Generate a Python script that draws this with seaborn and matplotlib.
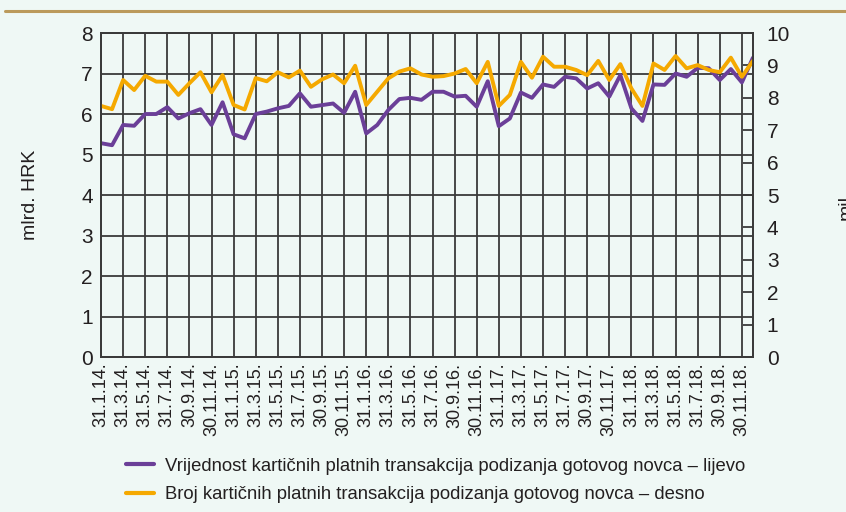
import numpy as np
import pandas as pd
import seaborn as sns
import matplotlib
matplotlib.use('Agg')
import matplotlib.pyplot as plt
from matplotlib.lines import Line2D

# monthly values, Jan 2014 - Dec 2018
value_bn_hrk = [5.28, 5.23, 5.73, 5.71, 6.00, 6.00, 6.17, 5.89, 6.02, 6.12,
                5.73, 6.29, 5.50, 5.40, 6.00, 6.06, 6.14, 6.20, 6.51, 6.18,
                6.22, 6.26, 6.03, 6.55, 5.52, 5.73, 6.10, 6.37, 6.40, 6.35,
                6.55, 6.55, 6.43, 6.45, 6.18, 6.81, 5.70, 5.89, 6.53, 6.40,
                6.73, 6.67, 6.92, 6.88, 6.63, 6.76, 6.43, 6.96, 6.14, 5.83,
                6.73, 6.72, 7.00, 6.92, 7.14, 7.13, 6.84, 7.11, 6.78, 7.39]
count_mil = [7.75, 7.65, 8.55, 8.24, 8.68, 8.50, 8.50, 8.09, 8.45, 8.79,
             8.17, 8.70, 7.78, 7.64, 8.61, 8.51, 8.79, 8.63, 8.84, 8.34,
             8.57, 8.72, 8.45, 8.99, 7.78, 8.19, 8.60, 8.81, 8.91, 8.72,
             8.65, 8.67, 8.75, 8.89, 8.45, 9.11, 7.75, 8.09, 9.11, 8.62,
             9.27, 8.96, 8.96, 8.86, 8.70, 9.14, 8.55, 9.04, 8.29, 7.75,
             9.06, 8.86, 9.29, 8.91, 9.01, 8.86, 8.79, 9.24, 8.65, 9.14]

tick_labels = ['31.1.14.', '31.3.14.', '31.5.14.', '31.7.14.', '30.9.14.', '30.11.14.',
               '31.1.15.', '31.3.15.', '31.5.15.', '31.7.15.', '30.9.15.', '30.11.15.',
               '31.1.16.', '31.3.16.', '31.5.16.', '31.7.16.', '30.9.16.', '30.11.16.',
               '31.1.17.', '31.3.17.', '31.5.17.', '31.7.17.', '30.9.17.', '30.11.17.',
               '31.1.18.', '31.3.18.', '31.5.18.', '31.7.18.', '30.9.18.', '30.11.18.']

label_value = 'Vrijednost karti\u010dnih platnih transakcija podizanja gotovog novca \u2013 lijevo'
label_count = 'Broj karti\u010dnih platnih transakcija podizanja gotovog novca \u2013 desno'

bg = '#eff8f5'
purple = '#6b3f98'
orange = '#f5a900'
grid_col = '#3a3a3a'
txt = '#231f20'

sns.set_style('white')
plt.rcParams['font.family'] = ['Liberation Sans', 'DejaVu Sans']
plt.rcParams['text.color'] = txt
plt.rcParams['xtick.color'] = txt
plt.rcParams['ytick.color'] = txt

df = pd.DataFrame({'idx': np.arange(len(value_bn_hrk)),
                   'value': value_bn_hrk, 'count': count_mil})

fig = plt.figure(figsize=(8.46, 5.12), dpi=100, facecolor=bg)
ax = fig.add_axes([0.1194, 0.3027, 0.7706, 0.6328])
ax.set_facecolor(bg)
ax2 = ax.twinx()

sns.lineplot(data=df, x='idx', y='value', ax=ax, color=purple, linewidth=2.8)
sns.lineplot(data=df, x='idx', y='count', ax=ax2, color=orange, linewidth=2.8)

ax.set_xlim(0, len(value_bn_hrk) - 1)
ax.set_ylim(0, 8)
ax2.set_ylim(0, 10)
ax.set_xticks(np.arange(0, len(value_bn_hrk), 2))
ax.set_xticklabels(tick_labels, rotation=90, fontsize=13)
ax.set_yticks(range(0, 9))
ax.tick_params(axis='y', labelsize=15, length=0, pad=6)
ax.tick_params(axis='x', length=0, pad=4)
ax.grid(True, color=grid_col, linewidth=1.3)
ax.set_axisbelow(True)
ax2.set_yticks(range(0, 11))
ax2.tick_params(axis='y', labelsize=15, direction='in', length=7, width=1.3,
                color=grid_col, pad=10)
ax.set_xlabel('')
ax.set_ylabel('')
ax2.set_ylabel('')
for a in (ax, ax2):
    for s in a.spines.values():
        s.set_color(grid_col)
        s.set_linewidth(1.3)

fig.text(0.036, 0.62, 'mlrd. HRK', rotation=90, fontsize=14, va='center', ha='center')
fig.text(0.99, 0.6, 'mil.', rotation=90, fontsize=14, va='center', ha='left')

# gold rule at top
fig.add_artist(Line2D([0.006, 1.0], [0.979, 0.979], color='#bb9a5c', linewidth=2.2,
                      transform=fig.transFigure))

handles = [Line2D([], [], color=purple, linewidth=3), Line2D([], [], color=orange, linewidth=3)]
fig.legend(handles, [label_value, label_count], loc='upper left',
           bbox_to_anchor=(0.14, 0.12), frameon=False, fontsize=13.3,
           handlelength=1.5, handletextpad=0.6, labelspacing=0.6, borderaxespad=0)

fig.savefig('out.png', dpi=100, facecolor=bg)
